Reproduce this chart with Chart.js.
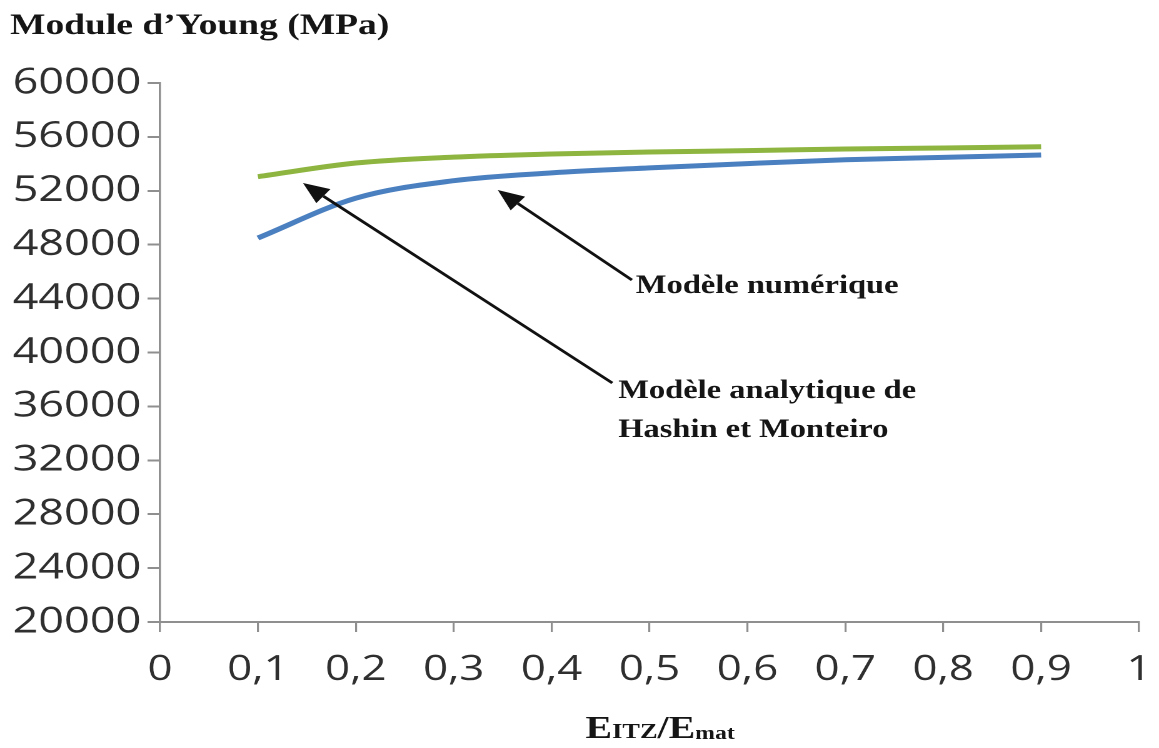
<!DOCTYPE html>
<html>
<head>
<meta charset="utf-8">
<title>Module d’Young (MPa)</title>
<script src="https://cdn.jsdelivr.net/npm/chart.js@4.4.1/dist/chart.umd.min.js"></script>
<style>
  html, body { margin: 0; padding: 0; background: #ffffff; overflow: hidden; }
  #chart { display: block; width: 1159px; height: 748px; }
</style>
</head>
<body>
<canvas id="chart" width="927" height="748" style="width:1159px;height:748px"></canvas>
<script>
// Stiffness ratio E_ITZ / E_mat
const ratios = [0.1, 0.2, 0.3, 0.4, 0.5, 0.6, 0.7, 0.8, 0.9];

// Young's modulus (MPa) for each ratio
const hashinMonteiro = [53050, 54060, 54500, 54730, 54880, 54980, 55100, 55180, 55270];
const numericModel   = [48500, 51450, 52750, 53330, 53700, 54020, 54300, 54480, 54660];

// Axis ticks
const yTickValues = [20000, 24000, 28000, 32000, 36000, 40000, 44000, 48000, 52000, 56000, 60000];
const xTickValues = [0, 0.1, 0.2, 0.3, 0.4, 0.5, 0.6, 0.7, 0.8, 0.9, 1];
const xTickLabels = ['0', '0,1', '0,2', '0,3', '0,4', '0,5', '0,6', '0,7', '0,8', '0,9', '1'];

// Series names written beside the arrows
const numericLabel = ['Modèle numérique'];
const analyticLabel = ['Modèle analytique de', 'Hashin et Monteiro'];

const GREEN = '#8db53f';
const BLUE = '#4a7fc0';
const AXIS = '#8f8f8f';
const TICK_TEXT = '#2f2f2f';
const SERIF = '"Liberation Serif", "Times New Roman", serif';

// Callouts, placed in data units: arrow from the text to the curve
const callouts = [
  { lines: numericLabel,  text: [0.486, 44416], tail: [0.482, 45380], tip: [0.345, 52060] },
  { lines: analyticLabel, text: [0.468, 36624], tail: [0.462, 37740], tip: [0.146, 52580] }
];

function drawArrow(ctx, x1, y1, x2, y2) {
  const ang = Math.atan2(y2 - y1, x2 - x1);
  const head = 21, half = 9;
  const bx = x2 - head * Math.cos(ang), by = y2 - head * Math.sin(ang);
  ctx.beginPath();
  ctx.moveTo(x1, y1);
  ctx.lineTo(bx, by);
  ctx.lineWidth = 2.6;
  ctx.strokeStyle = '#111';
  ctx.stroke();
  ctx.beginPath();
  ctx.moveTo(x2, y2);
  ctx.lineTo(bx + half * Math.sin(ang), by - half * Math.cos(ang));
  ctx.lineTo(bx - half * Math.sin(ang), by + half * Math.cos(ang));
  ctx.closePath();
  ctx.fillStyle = '#111';
  ctx.fill();
}

const textLayer = {
  id: 'textLayer',
  afterDraw(chart) {
    const ctx = chart.ctx;
    const xs = chart.scales.x, ys = chart.scales.y;
    ctx.save();

    // Axis title above the value axis
    ctx.fillStyle = '#151515';
    ctx.textAlign = 'left';
    ctx.textBaseline = 'alphabetic';
    ctx.font = 'bold 30px ' + SERIF;
    ctx.fillText('Module d’Young (MPa)', 8, 34);

    // Axis title below the ratio axis: E_ITZ / E_mat
    const parts = [
      { t: 'E',   f: 'bold 32px ' + SERIF, dy: 0 },
      { t: 'ITZ', f: 'bold 21px ' + SERIF, dy: 0 },
      { t: '/',   f: 'bold 32px ' + SERIF, dy: 0 },
      { t: 'E',   f: 'bold 32px ' + SERIF, dy: 0 },
      { t: 'mat', f: 'bold 19px ' + SERIF, dy: 1 }
    ];
    let total = 0;
    parts.forEach(p => { ctx.font = p.f; p.w = ctx.measureText(p.t).width; total += p.w; });
    let px = 528 - total / 2;
    parts.forEach(p => { ctx.font = p.f; ctx.fillText(p.t, px, 738 + p.dy); px += p.w; });

    // Callout arrows and their text
    callouts.forEach(c => {
      drawArrow(ctx,
        xs.getPixelForValue(c.tail[0]), ys.getPixelForValue(c.tail[1]),
        xs.getPixelForValue(c.tip[0]), ys.getPixelForValue(c.tip[1]));
      ctx.font = 'bold 26px ' + SERIF;
      ctx.fillStyle = '#151515';
      const tx = xs.getPixelForValue(c.text[0]);
      const ty = ys.getPixelForValue(c.text[1]);
      c.lines.forEach((line, i) => ctx.fillText(line, tx, ty + i * 39));
    });
    ctx.restore();
  }
};

const toPoints = vals => ratios.map((r, i) => ({ x: r, y: vals[i] }));

new Chart(document.getElementById('chart'), {
  type: 'line',
  data: {
    datasets: [
      {
        label: 'Modèle analytique de Hashin et Monteiro',
        data: toPoints(hashinMonteiro),
        borderColor: GREEN,
        borderWidth: 5,
        pointRadius: 0,
        cubicInterpolationMode: 'monotone',
        fill: false
      },
      {
        label: 'Modèle numérique',
        data: toPoints(numericModel),
        borderColor: BLUE,
        borderWidth: 5,
        pointRadius: 0,
        cubicInterpolationMode: 'monotone',
        fill: false
      }
    ]
  },
  options: {
    responsive: false,
    animation: false,
    devicePixelRatio: 2,
    layout: { padding: { left: 0, right: 16, top: 83, bottom: 0 } },
    plugins: {
      legend: { display: false },
      title: { display: false },
      tooltip: { enabled: false }
    },
    scales: {
      x: {
        type: 'linear',
        min: 0,
        max: 1,
        afterBuildTicks: s => { s.ticks = xTickValues.map(v => ({ value: v })); },
        afterFit: s => { s.height = 126; s.paddingLeft = 0; s.paddingRight = 0; },
        ticks: {
          autoSkip: false,
          maxRotation: 0,
          padding: 17,
          color: TICK_TEXT,
          font: { family: '"Open Sans", sans-serif', size: 35 },
          callback: (v, i) => xTickLabels[i]
        },
        grid: { display: true, drawOnChartArea: false, drawTicks: true, tickLength: 10, color: AXIS, lineWidth: 1.6 },
        border: { display: true, color: AXIS, width: 2 }
      },
      y: {
        min: 20000,
        max: 60000,
        afterBuildTicks: s => { s.ticks = yTickValues.map(v => ({ value: v })); },
        afterFit: s => { s.width = 128; s.paddingTop = 0; s.paddingBottom = 0; },
        ticks: {
          autoSkip: false,
          padding: 5,
          color: TICK_TEXT,
          font: { family: '"Open Sans", sans-serif', size: 36 },
          callback: v => String(v)
        },
        grid: { display: true, drawOnChartArea: false, drawTicks: true, tickLength: 10, color: AXIS, lineWidth: 2 },
        border: { display: true, color: AXIS, width: 1.7 }
      }
    }
  },
  plugins: [textLayer]
});
</script>
</body>
</html>
